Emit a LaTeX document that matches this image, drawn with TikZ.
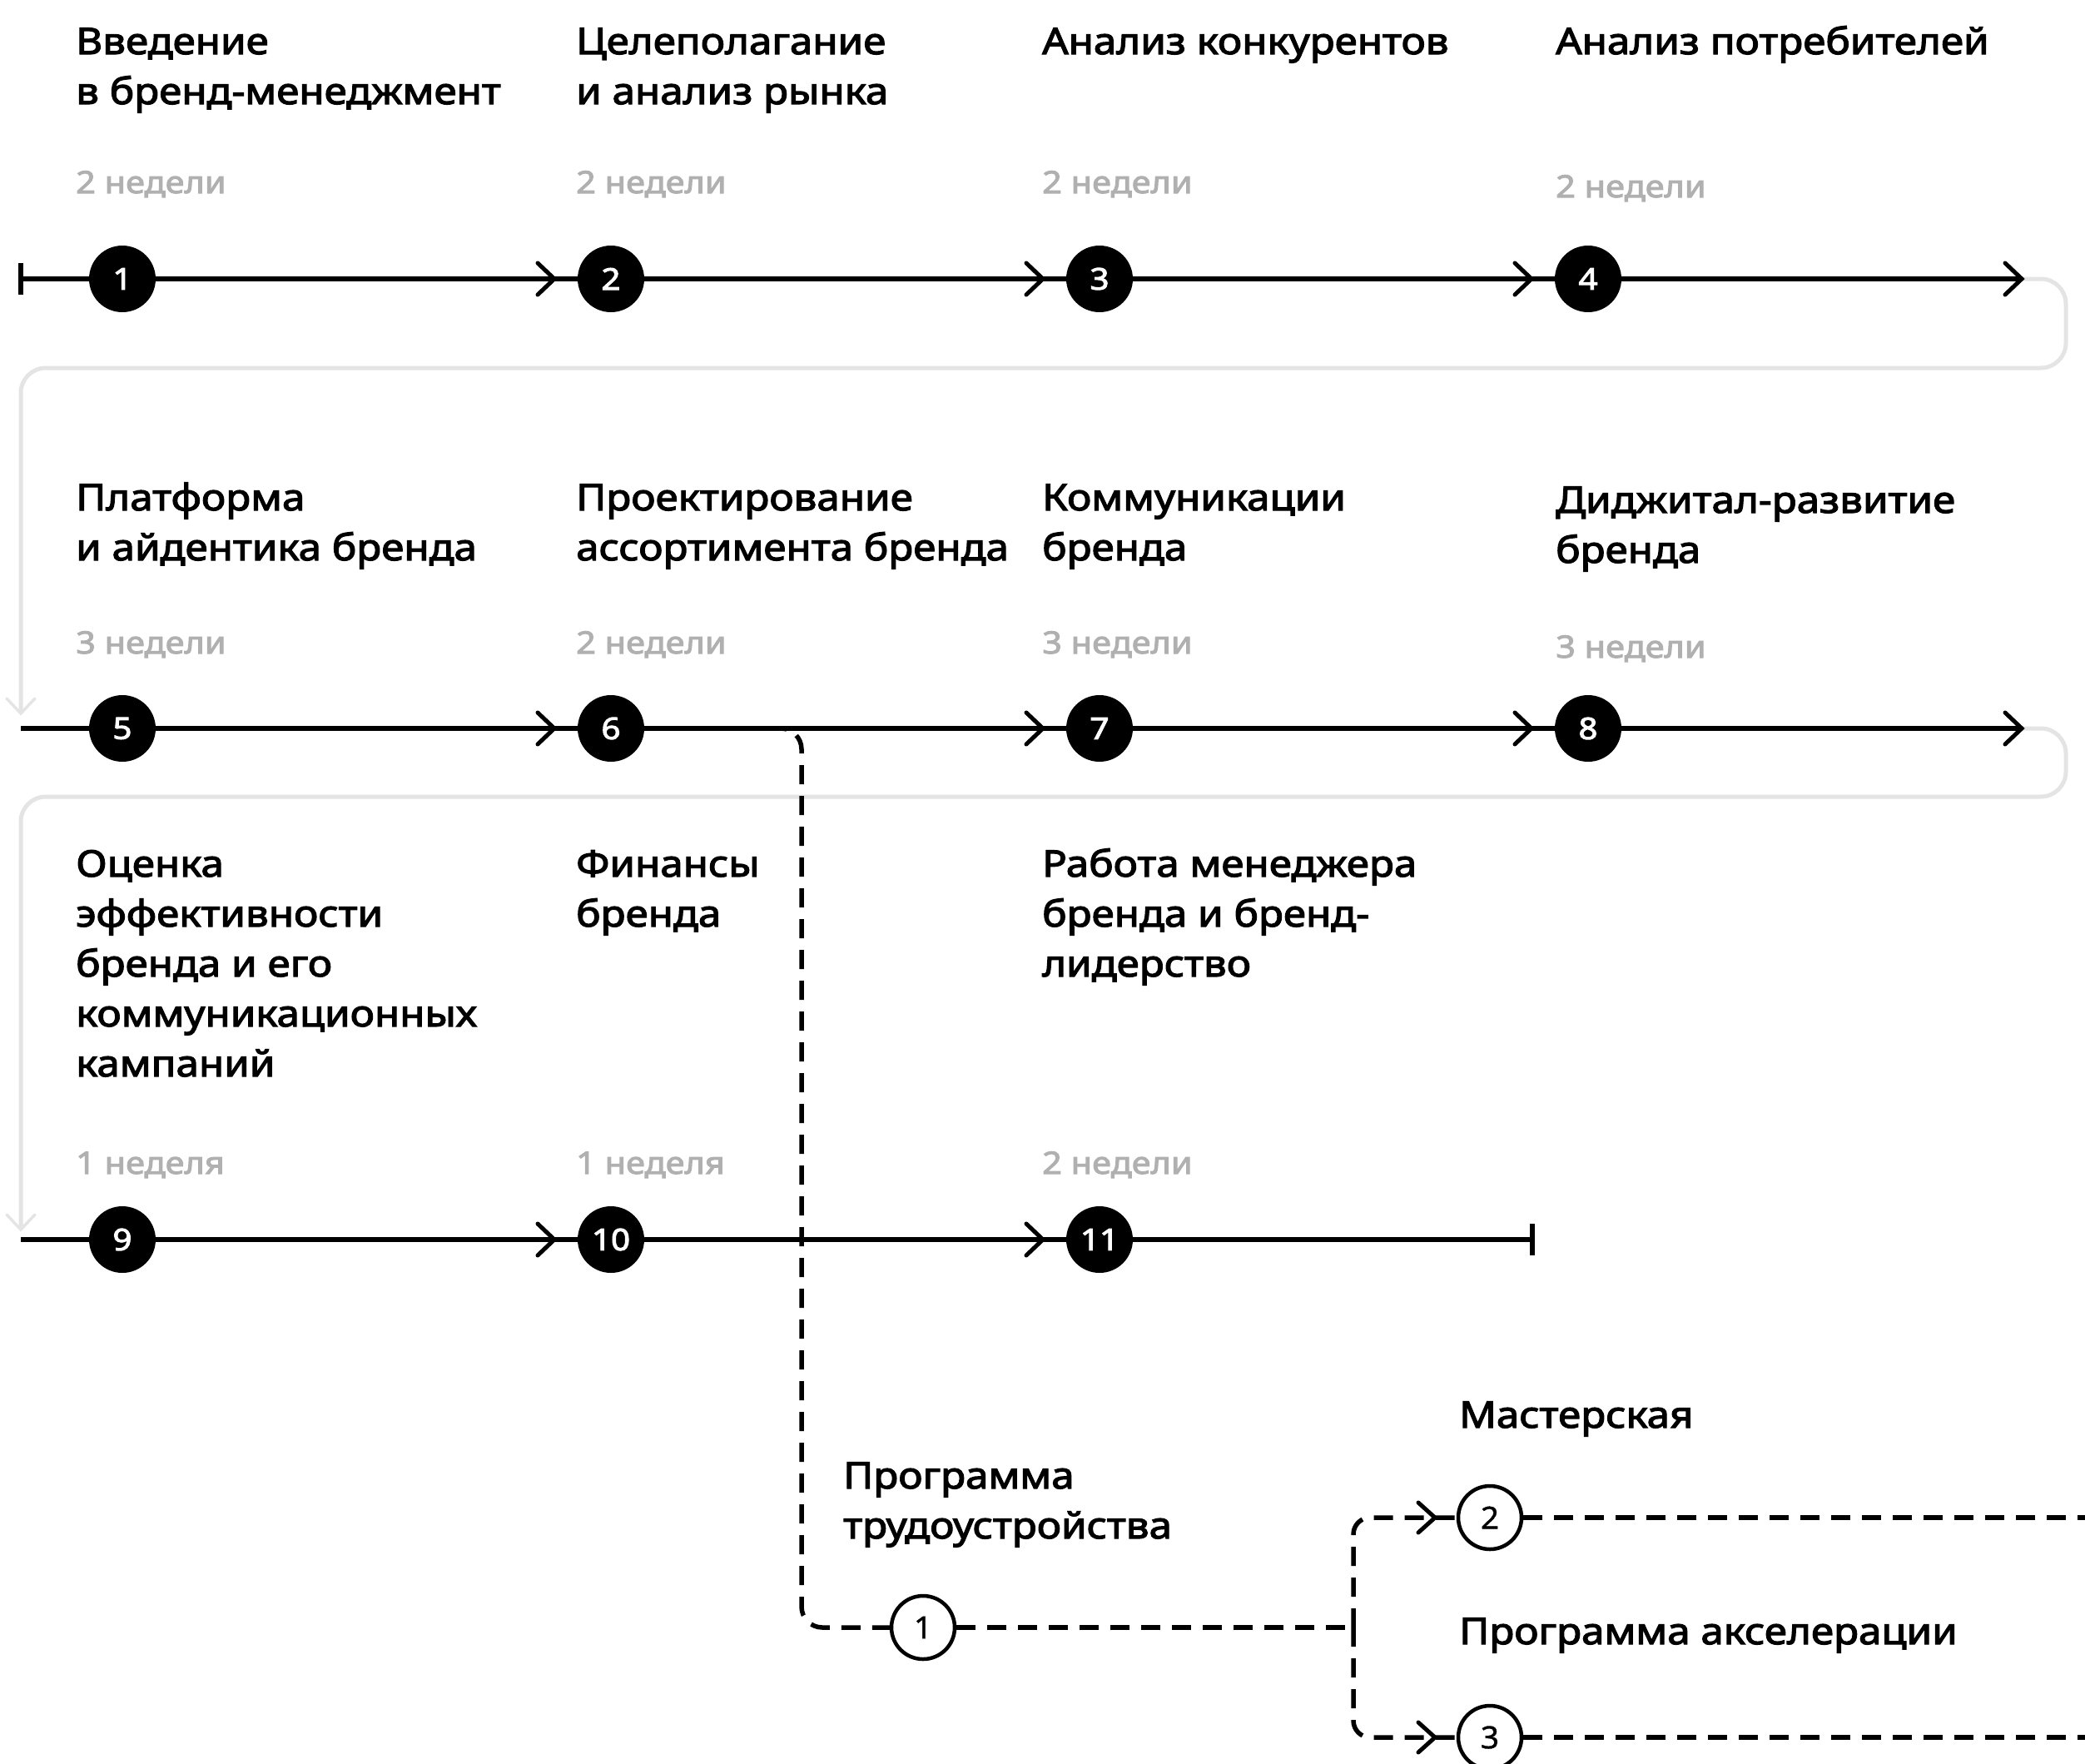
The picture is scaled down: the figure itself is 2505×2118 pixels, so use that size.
\documentclass[tikz,border=0pt]{standalone}
\usepackage{fontspec}
\setmainfont{Noto Sans}
\newfontfamily\tfont{Noto Sans}[FakeBold=2.8,FakeStretch=1.12]
\newfontfamily\nfont{Noto Sans}[FakeBold=1.0,FakeStretch=1.05]
\pgfdeclarelayer{bg}
\pgfsetlayers{bg,main}
\definecolor{durgray}{RGB}{176,176,176}
\definecolor{linkgray}{RGB}{228,228,228}
\newcommand\ml[1]{\begin{tabular}[t]{@{}l@{}}#1\end{tabular}}
\tikzset{
  title/.style={anchor=base west, inner sep=0pt, font=\tfont\fontsize{44pt}{60pt}\selectfont},
  dur/.style={anchor=base west, inner sep=0pt, text=durgray, font=\tfont\fontsize{37pt}{45pt}\selectfont},
  stepc/.style={circle, fill=black, minimum size=80pt, inner sep=0pt, text=white, font=\tfont\fontsize{36pt}{36pt}\selectfont},
  optc/.style={circle, draw=black, line width=4.5pt, fill=white, minimum size=76pt, inner sep=0pt, font=\nfont\fontsize{37pt}{37pt}\selectfont},
  mainline/.style={line width=6pt, draw=black},
  chev/.style={line width=5pt, draw=black, line cap=round, line join=miter},
  greyline/.style={line width=5pt, draw=linkgray, rounded corners=30pt},
  greychev/.style={line width=3.5pt, draw=linkgray, line cap=round},
  dashline/.style={line width=5.5pt, draw=black, dash pattern=on 23pt off 14pt},
}
\begin{document}
\begin{tikzpicture}[x=1pt,y=-1pt]
\useasboundingbox (0,0) rectangle (2505,2118);

% titles row 1
\node[title] (t1) at (91,65) {\ml{Введение\\в бренд-менеджмент}};
\node[title] (t2) at (692,65) {\ml{Целеполагание\\и анализ рынка}};
\node[title] (t3) at (1252,65) {Анализ конкурентов};
\node[title] (t4) at (1869,65) {Анализ потребителей};
\node[dur] (d1) at (91,232) {2 недели};
\node[dur] (d2) at (692,232) {2 недели};
\node[dur] (d3) at (1252,232) {2 недели};
\node[dur] (d4) at (1869,237) {2 недели};

% titles row 2
\node[title] (t5) at (91,613) {\ml{Платформа\\и айдентика бренда}};
\node[title] (t6) at (692,613) {\ml{Проектирование\\ассортимента бренда}};
\node[title] (t7) at (1252,613) {\ml{Коммуникации\\бренда}};
\node[title] (t8) at (1869,616) {\ml{Диджитал-развитие\\бренда}};
\node[dur] (d5) at (91,785) {3 недели};
\node[dur] (d6) at (692,785) {2 недели};
\node[dur] (d7) at (1252,785) {3 недели};
\node[dur] (d8) at (1869,790) {3 недели};

% titles row 3
\node[title] (t9) at (91,1053) {\ml{Оценка\\эффективности\\бренда и его\\коммуникационных\\кампаний}};
\node[title] (t10) at (692,1053) {\ml{Финансы\\бренда}};
\node[title] (t11) at (1252,1053) {\ml{Работа менеджера\\бренда и бренд-\\лидерство}};
\node[dur] (d9) at (91,1410) {1 неделя};
\node[dur] (d10) at (692,1410) {1 неделя};
\node[dur] (d11) at (1252,1410) {2 недели};

% bottom labels
\node[title] (p1) at (1013,1788) {\ml{Программа\\трудоустройства}};
\node[title] (p2) at (1753,1715) {Мастерская};
\node[title] (p3) at (1753,1975) {Программа акселерации};

% step circles
\node[stepc] (s1) at (147,335) {1};
\node[stepc] (s2) at (734,335) {2};
\node[stepc] (s3) at (1321,335) {3};
\node[stepc] (s4) at (1908,335) {4};
\node[stepc] (s5) at (147,875) {5};
\node[stepc] (s6) at (734,875) {6};
\node[stepc] (s7) at (1321,875) {7};
\node[stepc] (s8) at (1908,875) {8};
\node[stepc] (s9) at (147,1489) {9};
\node[stepc] (s10) at (734,1489) {10};
\node[stepc] (s11) at (1321,1489) {11};

% option circles
\node[optc] (o1) at (1109,1955) {1};
\node[optc] (o2) at (1790,1823) {2};
\node[optc] (o3) at (1790,2087) {3};

% coordinates
\coordinate (st) at (25,335);
\coordinate (e1) at (2429,335);
\coordinate (r2s) at (25,875);
\coordinate (e2) at (2429,875);
\coordinate (r3s) at (25,1489);
\coordinate (r3e) at (1841,1489);
\coordinate (g1) at (25,857);
\coordinate (g2) at (25,1477);
\coordinate (j) at (1626,1955);
\coordinate (x2) at (2505,1823);
\coordinate (x3) at (2505,2087);

\begin{pgfonlayer}{bg}
% grey connectors
\draw[greyline] (e1) -- (2482,335) -- (2482,442) -- (25,442) -- (g1);
\draw[greychev] (g1) ++(-17,-18) -- ++(17,18) -- ++(17,-18);
\draw[greyline] (e2) -- (2482,875) -- (2482,957) -- (25,957) -- (g2);
\draw[greychev] (g2) ++(-17,-18) -- ++(17,18) -- ++(17,-18);

% main lines
\draw[mainline] (st) -- (s1.center) -- (s2.center) -- (s3.center) -- (s4.center) -- (e1);
\draw[mainline] (st) ++(0,-19) -- ++(0,38);
\draw[mainline] (r2s) -- (s5.center) -- (s6.center) -- (s7.center) -- (s8.center) -- (e2);
\draw[mainline] (r3s) -- (s9.center) -- (s10.center) -- (s11.center) -- (r3e);
\draw[mainline] (r3e) ++(0,-19) -- ++(0,38);

% chevrons
\foreach \n in {s2,s3,s4,s6,s7,s8,s10,s11}{
  \draw[chev] (\n.center) ++(-88,-19) -- ++(20,19) -- ++(-20,19);
}
\draw[chev] (e1) ++(-20,-19) -- ++(20,19) -- ++(-20,19);
\draw[chev] (e2) ++(-20,-19) -- ++(20,19) -- ++(-20,19);

% dashed branch
\draw[dashline, rounded corners=25pt] (s6.east) -- (963,875) -- (963,1955) -- (o1.west);
\draw[dashline] (o1.east) -- (j);
\draw[dashline, rounded corners=20pt] (j) -- (1626,1823) -- (o2.west);
\draw[dashline, rounded corners=20pt] (j) -- (1626,2087) -- (o3.west);
\draw[chev] (o2.center) ++(-86,-18) -- ++(20,18) -- ++(-20,18);
\draw[chev] (o3.center) ++(-86,-18) -- ++(20,18) -- ++(-20,18);
\draw[dashline] (o2.east) -- (x2);
\draw[dashline] (o3.east) -- (x3);
\end{pgfonlayer}
\end{tikzpicture}
\end{document}
